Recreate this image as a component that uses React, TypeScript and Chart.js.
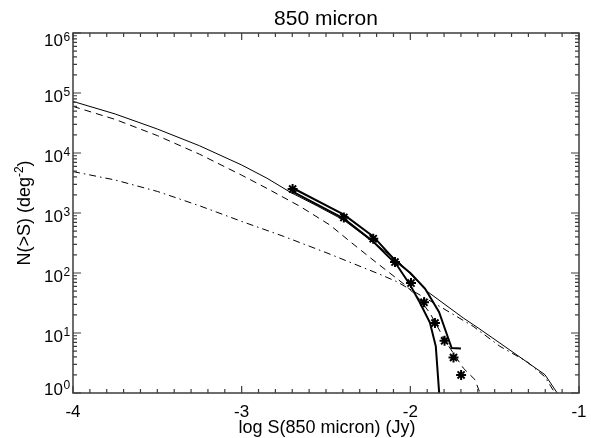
import { useEffect, useRef } from 'react';
import { Chart, registerables } from 'chart.js';

Chart.register(...registerables);

// ---- data (log S in Jy, N(>S) in deg^-2) ----
const dataX = [-2.698, -2.394, -2.22, -2.091, -1.996, -1.919, -1.854, -1.797, -1.744, -1.699];
const dataN = [2512, 845, 373, 152, 68, 32.4, 14.7, 7.4, 3.9, 2.0];

const upperX = [-2.698, -2.394, -2.22, -2.09, -2.0, -1.913, -1.83, -1.78, -1.755, -1.7];
const upperN = [2610, 938, 407, 162, 100, 55, 22.4, 8.9, 5.6, 5.5];

const lowerX = [-2.698, -2.394, -2.222, -2.081, -2.002, -1.943, -1.884, -1.849, -1.829];
const lowerN = [2265, 804, 337, 137, 63.8, 32, 14.9, 6.0, 1];

const totalX = [-4.0, -3.75, -3.5, -3.25, -3.0, -2.85, -2.714, -2.55, -2.394, -2.222, -2.062, -1.903, -1.686, -1.597, -1.469, -1.202, -1.129];
const totalN = [72400, 44700, 25100, 13200, 6310, 3800, 2240, 1300, 759, 331, 147, 50, 17.8, 12.1, 6.8, 2.02, 1];

const dashedX = [-4.0, -3.75, -3.5, -3.25, -3.0, -2.85, -2.654, -2.477, -2.36, -2.2, -2.022, -1.943, -1.884, -1.785, -1.686, -1.617, -1.587];
const dashedN = [59800, 36300, 19500, 9550, 4270, 2570, 1290, 631, 339, 148, 60.3, 35.9, 21.5, 6.8, 2.6, 1.67, 1];

const dashDotX = [-4.0, -3.75, -3.5, -3.25, -3.0, -2.75, -2.5, -2.2, -2.083, -1.825, -1.627, -1.469, -1.311, -1.202, -1.143];
const dashDotN = [4900, 3550, 2290, 1320, 724, 407, 219, 100, 72.4, 27.7, 12.9, 6.0, 3.37, 1.86, 1];

const xMajorTicks = [-4, -3, -2, -1];
const xTickLabels = ['-4', '-3', '-2', '-1'];
const yExponents = [0, 1, 2, 3, 4, 5, 6];

const titleText = '850 micron';
const xTitleText = 'log S(850 micron) (Jy)';
const yTitleMain = 'N(>S) (deg';
const yTitleSup = '-2';
const yTitleEnd = ')';

const FONT = '"Liberation Sans", Arial, Helvetica, sans-serif';

const toPoints = (xs: number[], ys: number[]) => xs.map((x, i) => ({ x, y: ys[i] }));

const idlAxes = {
  id: 'idlAxes',
  afterDatasetsDraw(chart: any) {
    const { ctx, chartArea: a } = chart;
    const xs = chart.scales.x;
    const ys = chart.scales.y;
    ctx.save();
    // box
    ctx.strokeStyle = '#3c3c3c';
    ctx.lineWidth = 1.5;
    ctx.strokeRect(a.left, a.top, a.right - a.left, a.bottom - a.top);

    // x ticks
    ctx.lineWidth = 1.2;
    ctx.beginPath();
    for (let i = 0; i <= 30; i++) {
      const v = -4 + i * 0.1;
      const px = xs.getPixelForValue(v);
      const len = i % 10 === 0 ? 7 : 4;
      ctx.moveTo(px, a.bottom);
      ctx.lineTo(px, a.bottom - len);
      ctx.moveTo(px, a.top);
      ctx.lineTo(px, a.top + len);
    }
    // y ticks
    for (let d = 0; d <= 5; d++) {
      for (let m = 1; m <= 9; m++) {
        const py = ys.getPixelForValue(m * Math.pow(10, d));
        const len = m === 1 ? 8 : 4;
        ctx.moveTo(a.left, py);
        ctx.lineTo(a.left + len, py);
        ctx.moveTo(a.right, py);
        ctx.lineTo(a.right - len, py);
      }
    }
    const pyTop = ys.getPixelForValue(1e6);
    ctx.moveTo(a.left, pyTop);
    ctx.lineTo(a.left + 8, pyTop);
    ctx.moveTo(a.right, pyTop);
    ctx.lineTo(a.right - 8, pyTop);
    ctx.stroke();

    ctx.fillStyle = '#000';
    // x tick labels
    ctx.font = `17px ${FONT}`;
    ctx.textAlign = 'center';
    ctx.textBaseline = 'alphabetic';
    xMajorTicks.forEach((v, i) => {
      ctx.fillText(xTickLabels[i], xs.getPixelForValue(v), a.bottom + 24);
    });

    // y tick labels 10^n
    yExponents.forEach((e) => {
      const py = ys.getPixelForValue(Math.pow(10, e));
      let base = py + 8.7;
      if (e === 6) base = py + 13.4;
      if (e === 0) base = py + 1.7;
      ctx.font = `17px ${FONT}`;
      ctx.textAlign = 'right';
      ctx.fillText('10', a.left - 10, base);
      ctx.font = `12px ${FONT}`;
      ctx.textAlign = 'left';
      ctx.fillText(String(e), a.left - 9.5, base - 5.5);
    });

    // title
    ctx.font = `21px ${FONT}`;
    ctx.textAlign = 'center';
    ctx.fillText(titleText, (a.left + a.right) / 2, 25);

    // x title
    ctx.font = `18px ${FONT}`;
    ctx.fillText(xTitleText, (a.left + a.right) / 2 + 1, 433);

    // y title (rotated)
    ctx.save();
    ctx.translate(30, (a.top + a.bottom) / 2);
    ctx.rotate(-Math.PI / 2);
    ctx.textAlign = 'left';
    ctx.font = `18px ${FONT}`;
    const w1 = ctx.measureText(yTitleMain).width;
    const w3 = ctx.measureText(yTitleEnd).width;
    ctx.font = `12px ${FONT}`;
    const w2 = ctx.measureText(yTitleSup).width;
    let x0 = -(w1 + w2 + w3) / 2;
    ctx.font = `18px ${FONT}`;
    ctx.fillText(yTitleMain, x0, 0);
    x0 += w1;
    ctx.font = `12px ${FONT}`;
    ctx.fillText(yTitleSup, x0, -7);
    x0 += w2;
    ctx.font = `18px ${FONT}`;
    ctx.fillText(yTitleEnd, x0, 0);
    ctx.restore();

    ctx.restore();
  },
};

export default function App() {
  const ref = useRef<HTMLCanvasElement>(null);
  useEffect(() => {
    const lineBase = { pointRadius: 0, fill: false, tension: 0, borderColor: '#000', backgroundColor: '#000' };
    const chart = new Chart(ref.current as HTMLCanvasElement, {
      type: 'line',
      data: {
        datasets: [
          {
            label: 'data',
            data: toPoints(dataX, dataN),
            showLine: false,
            pointStyle: 'star',
            pointRadius: 5,
            borderWidth: 2,
            borderColor: '#000',
            backgroundColor: '#000',
          },
          { ...lineBase, label: 'upper', data: toPoints(upperX, upperN), borderWidth: 2 },
          { ...lineBase, label: 'lower', data: toPoints(lowerX, lowerN), borderWidth: 2 },
          { ...lineBase, label: 'total', data: toPoints(totalX, totalN), borderWidth: 1 },
          { ...lineBase, label: 'dashed', data: toPoints(dashedX, dashedN), borderWidth: 1, borderDash: [7, 5] },
          { ...lineBase, label: 'dashdot', data: toPoints(dashDotX, dashDotN), borderWidth: 1, borderDash: [7, 4, 1.5, 4] },
        ] as any,
      },
      options: {
        animation: false,
        responsive: false,
        devicePixelRatio: 1,
        layout: { padding: { left: 73, right: 12, top: 33, bottom: 45 } },
        plugins: { legend: { display: false }, tooltip: { enabled: false }, title: { display: false } },
        scales: {
          x: { type: 'linear', min: -4, max: -1, display: false },
          y: { type: 'logarithmic', min: 1, max: 1e6, display: false },
        },
      } as any,
      plugins: [idlAxes],
    });
    return () => chart.destroy();
  }, []);
  return (
    <div style={{ position: 'fixed', left: 0, top: 0, width: 591, height: 438, background: '#fff' }}>
      <canvas ref={ref} width={591} height={438} style={{ display: 'block', width: 591, height: 438 }} />
    </div>
  );
}
